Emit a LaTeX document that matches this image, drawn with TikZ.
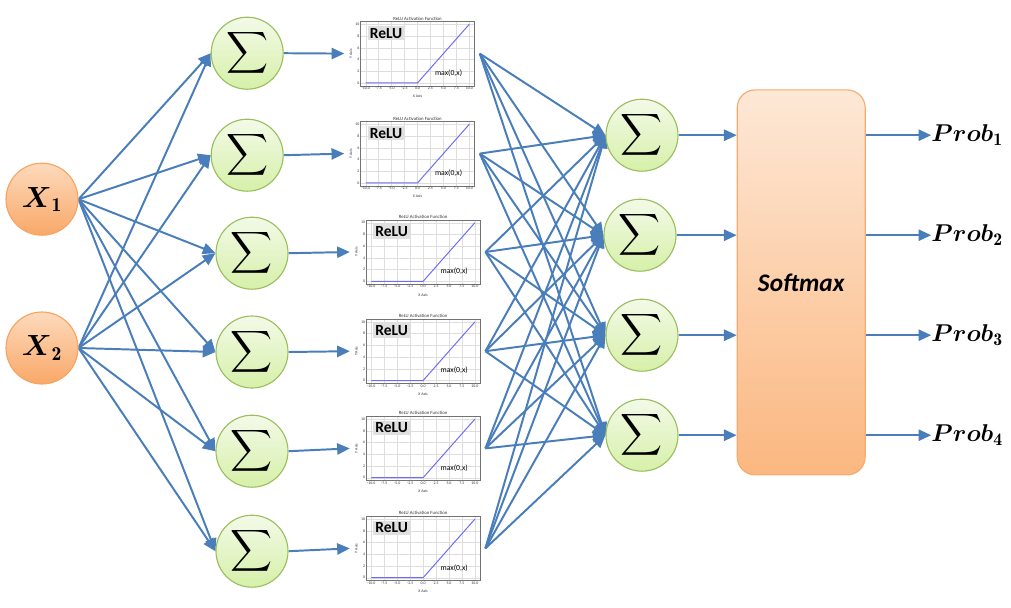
\documentclass[tikz,border=0pt]{standalone}
\usepackage{fontspec}
\usepackage{amsmath}
\usepackage{tikz}
\usetikzlibrary{arrows.meta}
\newfontfamily\calibri{Carlito}
\definecolor{EdgeBlue}{RGB}{74,126,187}
\definecolor{InTop}{RGB}{253,218,188}
\definecolor{InBot}{RGB}{249,168,104}
\definecolor{InLine}{RGB}{246,164,98}
\definecolor{SumTop}{RGB}{243,250,232}
\definecolor{SumBot}{RGB}{214,240,168}
\definecolor{SumLine}{RGB}{155,190,95}
\definecolor{SmTop}{RGB}{253,232,214}
\definecolor{SmBot}{RGB}{251,183,128}
\definecolor{SmLine}{RGB}{247,170,110}
\definecolor{ReluViolet}{RGB}{108,108,245}
\pgfdeclarelayer{edgelayer}
\pgfdeclarelayer{nodelayer}
\pgfsetlayers{edgelayer,nodelayer,main}
\tikzstyle{none}=[inner sep=0pt]
\tikzstyle{xn}=[circle,minimum size=1.8cm,inner sep=0pt,top color=InTop,bottom color=InBot,draw=InLine,line width=0.8pt,font=\fontsize{20}{22}\selectfont]
\tikzstyle{sn}=[circle,minimum size=1.8cm,inner sep=0pt,top color=SumTop,bottom color=SumBot,draw=SumLine,line width=0.8pt,font=\fontsize{20}{22}\selectfont]
\tikzstyle{smbox}=[rectangle,rounded corners=0.45cm,minimum width=3.2cm,minimum height=9.625cm,top color=SmTop,bottom color=SmBot,draw=SmLine,line width=0.8pt,font=\calibri\bfseries\itshape\fontsize{18}{20}\selectfont]
\tikzstyle{plot}=[rectangle,minimum width=3.375cm,minimum height=2.25cm,inner sep=0pt]
\tikzstyle{prob}=[inner sep=0pt,anchor=west,font=\fontsize{18}{20}\selectfont]
\tikzstyle{arrow}=[-{Triangle[length=9pt,width=8pt]},draw=EdgeBlue,line width=1.4pt]
\tikzstyle{gridline}=[draw=black!13,line width=0.25pt]
\tikzstyle{plotframe}=[draw=black!55,line width=0.35pt]
\tikzstyle{reluline}=[draw=ReluViolet,line width=0.7pt]
\tikzstyle{tick}=[inner sep=0.6pt,text=black!80,font=\calibri\fontsize{2.8}{3}\selectfont]
\tikzstyle{relulabel}=[fill=black!12,inner sep=1.6pt,font=\calibri\bfseries\fontsize{11}{12}\selectfont]
\newcommand{\bigsum}{$\displaystyle\sum$}
\newcommand{\reluplot}[1]{%
  \begin{scope}[shift={(#1.center)},xshift=0.1375cm,yshift=-0.733cm,x=0.1295cm,y=0.1466cm]
    \foreach \t in {-10,-7.5,...,10} \draw [style=gridline] (\t,-0.5) -- (\t,10.5);
    \foreach \t in {0,2,...,10} \draw [style=gridline] (-11,\t) -- (11,\t);
    \draw [style=plotframe] (-11,-0.5) rectangle (11,10.5);
    \foreach \t in {-10.0,-7.5,-5.0,-2.5,0.0,2.5,5.0,7.5,10.0} \node [style=tick,anchor=north] at (\t,-0.5) {\t};
    \foreach \t in {0,2,...,10} \node [style=tick,anchor=east] at (-11,\t) {\t};
    \node [style=tick,anchor=north] at (0,-1.9) {X Axis};
    \node [style=tick,anchor=south,rotate=90] at (-12.4,5) {Y Axis};
    \node [style=tick,anchor=south,font=\calibri\fontsize{3.4}{4}\selectfont] at (0,10.5) {ReLU Activation Function};
    \node [style=relulabel,anchor=north west] at (-9.7,9.8) {ReLU};
    \node [style=tick,text=black,font=\calibri\fontsize{5.5}{6}\selectfont] at (6,1.7) {max(0,x)};
    \draw [style=reluline] (-10,0) -- (0,0) -- (10,10);
  \end{scope}}

\begin{document}
\begin{tikzpicture}
	\useasboundingbox (0,0) rectangle (25.275,-15.175);
	\begin{pgfonlayer}{nodelayer}
		\node [style=xn] (x1) at (1.05, -4.98) {$\boldsymbol{X}_{\mathbf{1}}$};
		\node [style=xn] (x2) at (1.05, -8.7) {$\boldsymbol{X}_{\mathbf{2}}$};
		\node [style=sn] (h1) at (6.18, -1.33) {\bigsum};
		\node [style=sn] (h2) at (6.18, -3.88) {\bigsum};
		\node [style=sn] (h3) at (6.3, -6.33) {\bigsum};
		\node [style=sn] (h4) at (6.3, -8.8) {\bigsum};
		\node [style=sn] (h5) at (6.3, -11.28) {\bigsum};
		\node [style=sn] (h6) at (6.3, -13.78) {\bigsum};
		\node [style=plot] (p1) at (10.3, -1.34) {};
		\node [style=plot] (p2) at (10.3, -3.84) {};
		\node [style=plot] (p3) at (10.44, -6.3) {};
		\node [style=plot] (p4) at (10.44, -8.78) {};
		\node [style=plot] (p5) at (10.44, -11.21) {};
		\node [style=plot] (p6) at (10.44, -13.71) {};
		\node [style=sn] (o1) at (16.05, -3.38) {\bigsum};
		\node [style=sn] (o2) at (16.0, -5.88) {\bigsum};
		\node [style=sn] (o3) at (16.05, -8.38) {\bigsum};
		\node [style=sn] (o4) at (16.05, -10.88) {\bigsum};
		\node [style=smbox] (sm) at (20.03, -7.06) {Softmax};
		\node [style=prob] (prob1) at (23.28, -3.38) {$\boldsymbol{Prob}_{\mathbf{1}}$};
		\node [style=prob] (prob2) at (23.28, -5.88) {$\boldsymbol{Prob}_{\mathbf{2}}$};
		\node [style=prob] (prob3) at (23.28, -8.38) {$\boldsymbol{Prob}_{\mathbf{3}}$};
		\node [style=prob] (prob4) at (23.28, -10.88) {$\boldsymbol{Prob}_{\mathbf{4}}$};
	\end{pgfonlayer}
	\begin{pgfonlayer}{edgelayer}
		\draw [style=arrow] (x1.east) to (h1.west);
		\draw [style=arrow] (x1.east) to (h2.west);
		\draw [style=arrow] (x1.east) to (h3.west);
		\draw [style=arrow] (x1.east) to (h4.west);
		\draw [style=arrow] (x1.east) to (h5.west);
		\draw [style=arrow] (x1.east) to (h6.west);
		\draw [style=arrow] (x2.east) to (h1.west);
		\draw [style=arrow] (x2.east) to (h2.west);
		\draw [style=arrow] (x2.east) to (h3.west);
		\draw [style=arrow] (x2.east) to (h4.west);
		\draw [style=arrow] (x2.east) to (h5.west);
		\draw [style=arrow] (x2.east) to (h6.west);
		\draw [style=arrow] (h1.east) to (p1.west);
		\draw [style=arrow] (h2.east) to (p2.west);
		\draw [style=arrow] (h3.east) to (p3.west);
		\draw [style=arrow] (h4.east) to (p4.west);
		\draw [style=arrow] (h5.east) to (p5.west);
		\draw [style=arrow] (h6.east) to (p6.west);
		\draw [style=arrow] (p1.east) to (o1.west);
		\draw [style=arrow] (p1.east) to (o2.west);
		\draw [style=arrow] (p1.east) to (o3.west);
		\draw [style=arrow] (p1.east) to (o4.west);
		\draw [style=arrow] (p2.east) to (o1.west);
		\draw [style=arrow] (p2.east) to (o2.west);
		\draw [style=arrow] (p2.east) to (o3.west);
		\draw [style=arrow] (p2.east) to (o4.west);
		\draw [style=arrow] (p3.east) to (o1.west);
		\draw [style=arrow] (p3.east) to (o2.west);
		\draw [style=arrow] (p3.east) to (o3.west);
		\draw [style=arrow] (p3.east) to (o4.west);
		\draw [style=arrow] (p4.east) to (o1.west);
		\draw [style=arrow] (p4.east) to (o2.west);
		\draw [style=arrow] (p4.east) to (o3.west);
		\draw [style=arrow] (p4.east) to (o4.west);
		\draw [style=arrow] (p5.east) to (o1.west);
		\draw [style=arrow] (p5.east) to (o2.west);
		\draw [style=arrow] (p5.east) to (o3.west);
		\draw [style=arrow] (p5.east) to (o4.west);
		\draw [style=arrow] (p6.east) to (o1.west);
		\draw [style=arrow] (p6.east) to (o2.west);
		\draw [style=arrow] (p6.east) to (o3.west);
		\draw [style=arrow] (p6.east) to (o4.west);
		\draw [style=arrow] (o1.east) to (o1 -| sm.west);
		\draw [style=arrow] (o2.east) to (o2 -| sm.west);
		\draw [style=arrow] (o3.east) to (o3 -| sm.west);
		\draw [style=arrow] (o4.east) to (o4 -| sm.west);
		\draw [style=arrow] (o1 -| sm.east) to (prob1.west);
		\draw [style=arrow] (o2 -| sm.east) to (prob2.west);
		\draw [style=arrow] (o3 -| sm.east) to (prob3.west);
		\draw [style=arrow] (o4 -| sm.east) to (prob4.west);
	\end{pgfonlayer}
	\reluplot{p1}
	\reluplot{p2}
	\reluplot{p3}
	\reluplot{p4}
	\reluplot{p5}
	\reluplot{p6}
\end{tikzpicture}
\end{document}
